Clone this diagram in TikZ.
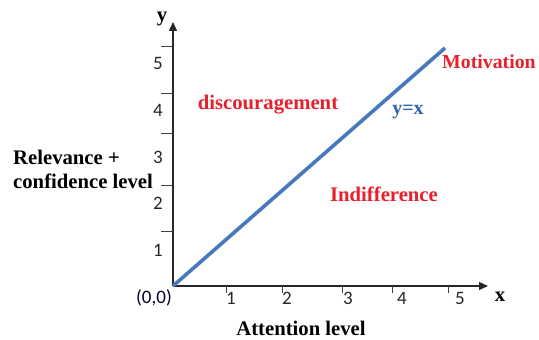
\documentclass[tikz,border=0pt]{standalone}
\usepackage{fontspec}
\setmainfont{Liberation Serif}
\newfontfamily\calfont{Carlito}
\usetikzlibrary{arrows.meta}

\definecolor{zonered}{RGB}{232,32,45}
\definecolor{lineblue}{RGB}{70,120,190}
\definecolor{labelblue}{RGB}{45,100,170}

\tikzset{
  axis/.style={line width=1.4pt, black!85, -{Triangle[length=9pt,width=8pt]}},
  tickmark/.style={line width=1pt, black!75},
  numlabel/.style={inner sep=0pt, font=\calfont\fontsize{19}{22}\selectfont, text=black!85},
  zone/.style={inner sep=0pt, font=\bfseries\fontsize{20.7}{24}\selectfont, text=zonered},
  axtitle/.style={inner sep=0pt, font=\bfseries\fontsize{20.7}{24}\selectfont, text=black},
}

\begin{document}
\begin{tikzpicture}[x=1pt,y=1pt]
\useasboundingbox (0,0) rectangle (539,340);

% axes
\coordinate (O) at (173,54);
\coordinate (xtip) at (488,54);
\coordinate (ytip) at (173,318);
\draw[axis] (O) -- (xtip);
\draw[axis] (O) -- (ytip);

% ticks
\foreach \yy in {108,154,206,246,293}
  \draw[tickmark] (161,\yy) -- (173,\yy);
\foreach \xx in {226,282,342,392,448}
  \draw[tickmark] (\xx,54) -- (\xx,47);

% tick labels
\foreach \n/\yy in {1/90,2/137,3/183,4/230,5/277}
  \node[numlabel] (ylab\n) at (158,\yy) {\n};
\foreach \n/\xx in {1/231,2/287,3/348,4/402,5/460}
  \node[numlabel] (xlab\n) at (\xx,42) {\n};
\node[numlabel, text=black!80!blue] (orig) at (154,42) {(0,0)};

% y = x
\coordinate (lineend) at (445,292);
\draw[line width=3.6pt, lineblue] (O) -- (lineend);
\node[inner sep=0pt, font=\bfseries\fontsize{20}{24}\selectfont, text=labelblue] (yx) at (408,228) {y=x};

% zones
\node[zone, anchor=west, font=\bfseries\fontsize{19.8}{24}\selectfont] (motiv) at (442,278) {Motivation};
\node[zone] (discour) at (268,235) {discouragement};
\node[zone] (indiff) at (384,146) {Indifference};

% axis titles
\node[axtitle] (xname) at (500,43) {x};
\node[axtitle] (yname) at (162,321) {y};
\node[axtitle, anchor=west, align=left] (yaxis) at (13,171) {Relevance +\\confidence level};
\node[axtitle] (xaxis) at (301,12) {Attention level};
\end{tikzpicture}
\end{document}
